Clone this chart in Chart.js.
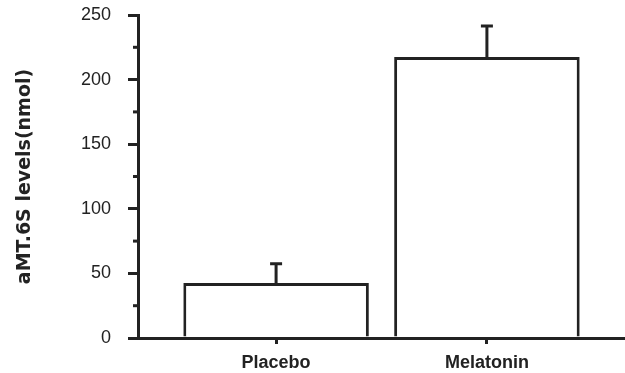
<!DOCTYPE html>
<html>
<head>
<meta charset="utf-8">
<script src="https://cdn.jsdelivr.net/npm/chart.js@4/dist/chart.umd.min.js"></script>
<style>
  html, body { margin: 0; padding: 0; background: #fff; }
  #wrap { width: 625px; height: 373px; }
</style>
</head>
<body>
<div id="wrap"><canvas id="chart"></canvas></div>
<script>
const categories = ["Placebo", "Melatonin"];
const means = [42.5, 217.5];
const errors = [15, 24];
const yTicks = [0, 50, 100, 150, 200, 250];

const ink = "#222";

// upper error bars, drawn through the chart's own scales
const errorBars = {
  id: "errorBars",
  afterDatasetsDraw(chart) {
    const { ctx, scales } = chart;
    ctx.save();
    ctx.strokeStyle = ink;
    ctx.lineWidth = 3;
    means.forEach((m, i) => {
      const x = scales.x.getPixelForValue(i + 1);
      const yTop = scales.y.getPixelForValue(m + errors[i]);
      const yBar = scales.y.getPixelForValue(m);
      ctx.beginPath();
      ctx.moveTo(x, yBar);
      ctx.lineTo(x, yTop);
      ctx.moveTo(x - 6, yTop);
      ctx.lineTo(x + 6, yTop);
      ctx.stroke();
    });
    ctx.restore();
  },
};

// short minor ticks on the y axis
const minorTicks = {
  id: "minorTicks",
  afterDraw(chart) {
    const { ctx, scales } = chart;
    const left = chart.chartArea.left;
    ctx.save();
    ctx.strokeStyle = ink;
    ctx.lineWidth = 3;
    for (let v = 25; v < 250; v += 50) {
      const y = scales.y.getPixelForValue(v);
      ctx.beginPath();
      ctx.moveTo(left - 5, y);
      ctx.lineTo(left, y);
      ctx.stroke();
    }
    ctx.restore();
  },
};

new Chart(document.getElementById("chart"), {
  type: "bar",
  data: {
    datasets: [
      {
        data: means.map((m, i) => ({ x: i + 1, y: m })),
        backgroundColor: "#fff",
        borderColor: ink,
        borderWidth: 3,
        barPercentage: 0.88,
        categoryPercentage: 1,
      },
    ],
  },
  plugins: [errorBars, minorTicks],
  options: {
    responsive: true,
    maintainAspectRatio: false,
    animation: false,
    layout: { padding: { top: 15, right: 0, bottom: 0, left: 14 } },
    plugins: { legend: { display: false }, tooltip: { enabled: false } },
    scales: {
      x: {
        type: "linear",
        offset: false,
        min: 0.345,
        max: 2.655,
        afterBuildTicks: (scale) => {
          scale.ticks = categories.map((c, i) => ({ value: i + 1 }));
        },
        afterFit: (scale) => {
          scale.height = 35;
          scale.paddingLeft = 0;
          scale.paddingRight = 0;
        },
        ticks: {
          callback: (v) => categories[v - 1] || "",
          color: ink,
          font: { family: "Liberation Sans", size: 18, weight: "bold" },
          padding: 8,
          maxRotation: 0,
        },
        grid: { offset: false, drawOnChartArea: false, tickLength: 6, color: ink, lineWidth: 3 },
        border: { color: ink, width: 3 },
      },
      y: {
        min: 0,
        max: 250,
        afterBuildTicks: (scale) => {
          scale.ticks = yTicks.map((v) => ({ value: v }));
        },
        afterFit: (scale) => {
          scale.width = 124;
          scale.paddingTop = 0;
          scale.paddingBottom = 0;
        },
        ticks: {
          color: ink,
          font: { family: "Liberation Sans", size: 18 },
          padding: 17,
        },
        grid: { drawOnChartArea: false, tickLength: 10, color: ink, lineWidth: 3 },
        border: { color: ink, width: 3 },
        title: {
          display: true,
          text: "aMT.6S levels(nmol)",
          color: ink,
          font: { family: "DejaVu Sans", size: 19, weight: "bold" },
          padding: { top: 0, bottom: 0 },
        },
      },
    },
  },
});
</script>
</body>
</html>
